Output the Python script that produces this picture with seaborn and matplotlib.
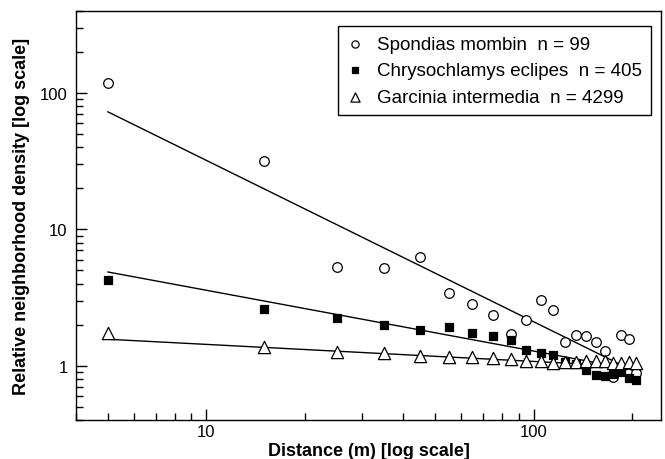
import numpy as np
import pandas as pd
import matplotlib
matplotlib.use("Agg")
import matplotlib.pyplot as plt
import matplotlib.ticker as mticker
import seaborn as sns

distance = [5, 15, 25, 35, 45, 55, 65, 75, 85, 95, 105, 115, 125, 135, 145,
            155, 165, 175, 185, 195, 205]
spondias = [118, 31.8, 5.3, 5.2, 6.25, 3.41, 2.82, 2.35, 1.72, 2.17, 3.01, 2.57,
            1.49, 1.67, 1.65, 1.48, 1.29, 0.83, 1.67, 1.56, 0.89]
chryso = [4.23, 2.62, 2.23, 1.99, 1.83, 1.92, 1.75, 1.66, 1.53, 1.30, 1.23, 1.19,
          1.07, 1.03, 0.93, 0.86, 0.84, 0.87, 0.90, 0.81, 0.79]
garcinia = [1.73, 1.38, 1.25, 1.23, 1.18, 1.165, 1.15, 1.14, 1.11, 1.09, 1.08, 1.05,
            1.065, 1.07, 1.08, 1.08, 1.08, 1.05, 1.05, 1.065, 1.05]
labels = ["Spondias mombin  n = 99", "Chrysochlamys eclipes  n = 405",
          "Garcinia intermedia  n = 4299"]
# power-law fit parameters y = a * x^b
fit_a = [490, 9.98, 1.91]
fit_b = [-1.184, -0.446, -0.125]

sns.set_theme(style="ticks", rc={'text.color': 'black', 'axes.labelcolor': 'black',
                                 'xtick.color': 'black', 'ytick.color': 'black',
                                 'axes.edgecolor': 'black'})
plt.rcParams['font.family'] = ['Liberation Sans', 'DejaVu Sans']

fig = plt.figure(figsize=(6.65, 4.6), dpi=100)
ax = fig.add_axes([0.1143, 0.085, 0.8797, 0.889])

series = [spondias, chryso, garcinia]
markers = ['o', 's', '^']
msizes = [48, 34, 78]
faces = ['white', 'black', 'white']
for vals, lab, m, ms, fc, a, b in zip(series, labels, markers, msizes, faces, fit_a, fit_b):
    df = pd.DataFrame({'d': distance, 'v': vals})
    sns.scatterplot(data=df, x='d', y='v', marker=m, s=ms, facecolor=fc,
                    edgecolor='black', linewidth=0.9, ax=ax, label=lab, zorder=3)
    xs = np.array([distance[0], distance[-1]], dtype=float)
    ax.plot(xs, a * xs ** b, color='black', lw=1.0, zorder=2)

ax.set_xscale('log')
ax.set_yscale('log')
ax.set_xlim(4, 245)
ax.set_ylim(0.4, 400)
ax.xaxis.set_major_locator(mticker.FixedLocator([10, 100]))
ax.xaxis.set_major_formatter(mticker.FixedFormatter(['10', '100']))
ax.xaxis.set_minor_locator(mticker.LogLocator(base=10, subs=np.arange(2, 10)))
ax.xaxis.set_minor_formatter(mticker.NullFormatter())
ax.yaxis.set_major_locator(mticker.FixedLocator([1, 10, 100]))
ax.yaxis.set_major_formatter(mticker.FixedFormatter(['1', '10', '100']))
ax.yaxis.set_minor_locator(mticker.LogLocator(base=10, subs=np.arange(2, 10)))
ax.yaxis.set_minor_formatter(mticker.NullFormatter())
ax.tick_params(which='both', direction='in', top=False, right=False, color='black',
               labelcolor='black', width=1.0)
ax.tick_params(which='major', length=8, labelsize=12)
ax.tick_params(axis='x', which='major', pad=3)
ax.tick_params(axis='y', which='major', pad=6)
ax.tick_params(which='minor', length=5)
for s in ax.spines.values():
    s.set_visible(True)
    s.set_color('black')
    s.set_linewidth(1.0)

ax.set_xlabel('Distance (m) [log scale]', fontsize=13, fontweight='bold', labelpad=2,
              color='black')
ax.set_ylabel('Relative neighborhood density [log scale]', fontsize=13,
              fontweight='bold', labelpad=7, color='black')

leg = ax.legend(loc='upper right', bbox_to_anchor=(0.983, 0.963), fontsize=13.5,
                frameon=True, fancybox=False, edgecolor='black', framealpha=1,
                borderpad=0.5, labelspacing=0.5, handletextpad=0.75,
                handlelength=0.8, markerscale=0.75, borderaxespad=0, labelcolor='black')
leg.get_frame().set_linewidth(1.0)

fig.savefig('out.png', dpi=100)
